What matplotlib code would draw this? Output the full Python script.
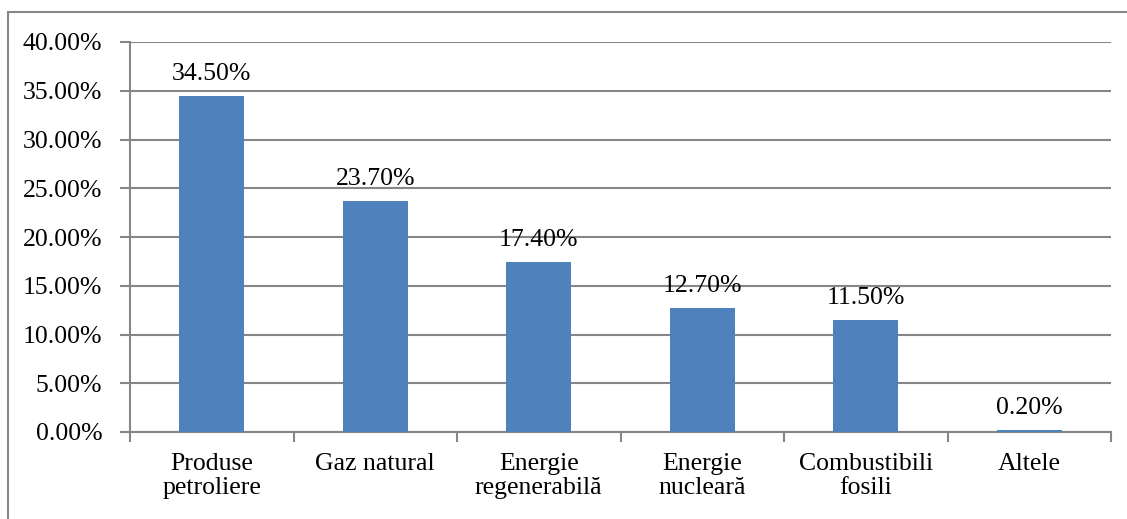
import matplotlib.pyplot as plt
from matplotlib.patches import Rectangle
import numpy as np

categories = ['Produse\npetroliere', 'Gaz natural', 'Energie\nregenerabilă',
              'Energie\nnucleară', 'Combustibili\nfosili', 'Altele']
values = [34.5, 23.7, 17.4, 12.7, 11.5, 0.2]
yticks = [0, 5, 10, 15, 20, 25, 30, 35, 40]

bar_color = '#4F81BD'
grid_color = '#868686'
fs = 18.5

plt.rcParams['font.family'] = ['Liberation Serif', 'DejaVu Serif']

fig = plt.figure(figsize=(11.27, 5.19), dpi=100)
ax = fig.add_axes([130 / 1127, 1 - 432 / 519, (1111 - 130) / 1127, (432 - 42) / 519])

x = np.arange(len(categories))
ax.bar(x, values, width=0.4, color=bar_color, zorder=3)

for xi, v in zip(x, values):
    ax.annotate('{:.2f}%'.format(v), (xi, v), xytext=(0, 8), textcoords='offset points',
                ha='center', va='bottom', fontsize=fs)

ax.set_xlim(-0.5, len(categories) - 0.5)
ax.set_ylim(0, 40)
ax.set_yticks(yticks)
ax.set_yticklabels(['{:.2f}%'.format(t) for t in yticks], fontsize=fs)
ax.yaxis.grid(True, color=grid_color, linewidth=1.5, zorder=0)

# category ticks at boundaries, labels in the middle
ax.set_xticks(np.arange(len(categories) + 1) - 0.5)
ax.set_xticklabels([])
ax.set_xticks(x, minor=True)
ax.set_xticklabels(categories, minor=True, fontsize=fs, linespacing=1.15)
ax.tick_params(axis='x', which='minor', length=0, pad=15)
ax.tick_params(axis='x', which='major', length=7, width=1.5, color=grid_color, direction='out')
ax.tick_params(axis='y', length=7, width=1.5, color=grid_color, pad=13)

for side in ['top', 'right']:
    ax.spines[side].set_visible(False)
for side in ['left', 'bottom']:
    ax.spines[side].set_color(grid_color)
    ax.spines[side].set_linewidth(1.5)

# chart border (only left and top visible in the crop)
fig.patches.append(Rectangle((8 / 1127, -0.1), 1.2, 1 - 12 / 519 + 0.1, transform=fig.transFigure,
                             fill=False, edgecolor=grid_color, linewidth=1.5))

fig.savefig('out.png', dpi=100)
